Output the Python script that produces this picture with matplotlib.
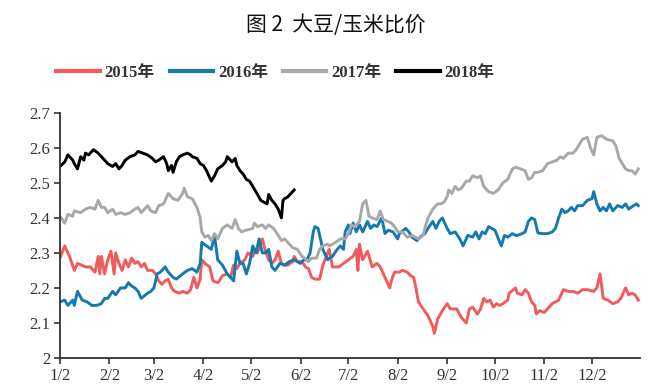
import matplotlib
matplotlib.use("Agg")
import matplotlib.pyplot as plt

# day of year (1 = Jan 2) and soybean/corn price ratio
days_2015 = [1, 4, 7, 10, 12, 17, 20, 23, 25, 26, 27, 29, 31, 33, 35, 36, 38, 40, 42, 44,
             46, 48, 50, 52, 54, 56, 59, 61, 63, 65, 67, 69, 71, 73, 76, 78, 81, 83, 85, 87,
             89, 90, 92, 95, 97, 100, 101, 103, 106, 108, 110, 112, 114, 117, 119, 122, 123, 125, 128, 130,
             132, 134, 136, 138, 140, 142, 144, 147, 148, 150, 153, 155, 157, 159, 161, 164, 166, 169, 170, 172,
             176, 179, 182, 185, 187, 188, 189, 191, 194, 197, 200, 202, 205, 208, 209, 211, 214, 216, 219, 221,
             223, 224, 226, 229, 232, 235, 236, 238, 241, 244, 246, 250, 253, 256, 258, 260, 263, 265, 267, 269,
             271, 273, 275, 277, 279, 282, 283, 287, 288, 291, 293, 295, 297, 299, 300, 302, 305, 309, 310, 314,
             317, 320, 323, 326, 329, 332, 336, 338, 340, 342, 345, 348, 351, 353, 356, 358, 360, 362, 364]
ratio_2015 = [2.286, 2.32, 2.29, 2.25, 2.27, 2.26, 2.26, 2.245, 2.29, 2.24, 2.29, 2.24, 2.28, 2.305, 2.24, 2.30, 2.27, 2.25, 2.28, 2.26,
              2.285, 2.27, 2.275, 2.26, 2.27, 2.25, 2.25, 2.24, 2.22, 2.21, 2.22, 2.225, 2.20, 2.19, 2.185, 2.19, 2.185, 2.195, 2.23, 2.20,
              2.225, 2.28, 2.27, 2.26, 2.22, 2.215, 2.22, 2.235, 2.24, 2.23, 2.265, 2.255, 2.27, 2.28, 2.30, 2.29, 2.305, 2.30, 2.34, 2.305,
              2.28, 2.27, 2.28, 2.305, 2.27, 2.265, 2.265, 2.275, 2.29, 2.275, 2.275, 2.26, 2.255, 2.23, 2.225, 2.225, 2.265, 2.30, 2.31, 2.26,
              2.26, 2.27, 2.28, 2.29, 2.31, 2.25, 2.325, 2.28, 2.305, 2.26, 2.27, 2.26, 2.23, 2.20, 2.22, 2.245, 2.245, 2.25, 2.245, 2.235,
              2.23, 2.21, 2.16, 2.14, 2.12, 2.09, 2.07, 2.11, 2.135, 2.155, 2.14, 2.14, 2.115, 2.10, 2.14, 2.145, 2.125, 2.14, 2.17, 2.16,
              2.165, 2.145, 2.155, 2.15, 2.155, 2.165, 2.185, 2.20, 2.185, 2.18, 2.195, 2.185, 2.16, 2.15, 2.125, 2.135, 2.13, 2.15, 2.155, 2.165,
              2.195, 2.19, 2.19, 2.185, 2.195, 2.195, 2.19, 2.20, 2.24, 2.17, 2.165, 2.155, 2.16, 2.17, 2.20, 2.18, 2.185, 2.18, 2.165]

days_2016 = [1, 4, 6, 9, 10, 12, 15, 18, 21, 24, 27, 29, 31, 34, 36, 39, 42, 44, 46, 48,
             50, 52, 56, 58, 60, 62, 64, 67, 69, 72, 74, 78, 81, 84, 87, 89, 90, 93, 96, 98,
             100, 103, 106, 108, 110, 112, 114, 116, 118, 120, 122, 124, 126, 128, 130, 132, 134, 136, 139, 142,
             145, 148, 152, 154, 156, 158, 160, 161, 163, 166, 169, 170, 172, 175, 177, 179, 180, 182, 183, 185,
             187, 189, 191, 194, 196, 198, 200, 203, 205, 207, 210, 213, 214, 218, 220, 222, 225, 227, 230, 232,
             235, 237, 239, 241, 244, 246, 249, 252, 254, 257, 260, 262, 264, 266, 268, 270, 272, 274, 278, 280,
             282, 285, 287, 288, 291, 293, 295, 297, 299, 301, 304, 307, 310, 312, 314, 316, 318, 320, 322, 324,
             326, 329, 332, 335, 336, 338, 340, 342, 344, 346, 348, 351, 354, 356, 358, 361, 363, 364]
ratio_2016 = [2.16, 2.165, 2.15, 2.165, 2.15, 2.19, 2.165, 2.16, 2.15, 2.15, 2.155, 2.17, 2.17, 2.19, 2.18, 2.20, 2.20, 2.215, 2.205, 2.20,
              2.19, 2.17, 2.185, 2.19, 2.20, 2.24, 2.245, 2.26, 2.245, 2.23, 2.225, 2.24, 2.25, 2.255, 2.245, 2.27, 2.33, 2.32, 2.31, 2.35,
              2.28, 2.265, 2.24, 2.23, 2.22, 2.305, 2.27, 2.27, 2.24, 2.27, 2.32, 2.30, 2.34, 2.30, 2.30, 2.31, 2.26, 2.25, 2.27, 2.265,
              2.275, 2.28, 2.27, 2.28, 2.28, 2.30, 2.36, 2.375, 2.37, 2.31, 2.28, 2.285, 2.29, 2.31, 2.32, 2.31, 2.36, 2.38, 2.355, 2.385,
              2.36, 2.38, 2.36, 2.39, 2.37, 2.38, 2.375, 2.40, 2.355, 2.365, 2.36, 2.34, 2.355, 2.37, 2.36, 2.345, 2.335, 2.345, 2.355, 2.37,
              2.39, 2.37, 2.39, 2.40, 2.37, 2.355, 2.36, 2.34, 2.32, 2.35, 2.345, 2.36, 2.34, 2.36, 2.355, 2.375, 2.37, 2.365, 2.32, 2.35,
              2.345, 2.355, 2.35, 2.35, 2.355, 2.36, 2.39, 2.40, 2.395, 2.357, 2.355, 2.355, 2.36, 2.37, 2.40, 2.425, 2.415, 2.42, 2.43, 2.42,
              2.435, 2.435, 2.45, 2.455, 2.475, 2.44, 2.42, 2.43, 2.42, 2.44, 2.42, 2.435, 2.43, 2.44, 2.425, 2.435, 2.44, 2.435]

days_2017 = [1, 4, 6, 9, 10, 14, 17, 20, 23, 25, 27, 29, 31, 34, 36, 39, 42, 45, 48, 50,
             52, 56, 58, 61, 63, 66, 69, 72, 75, 78, 79, 81, 84, 87, 89, 90, 92, 94, 96, 98,
             100, 103, 106, 109, 111, 113, 115, 118, 122, 123, 125, 128, 130, 132, 135, 138, 140, 142, 144, 147,
             150, 153, 155, 157, 159, 162, 164, 166, 169, 170, 174, 177, 180, 182, 184, 186, 189, 191, 193, 195,
             197, 200, 202, 204, 207, 209, 211, 213, 216, 219, 222, 224, 226, 229, 230, 232, 235, 238, 240, 242,
             244, 245, 247, 249, 251, 253, 256, 258, 260, 263, 265, 267, 270, 273, 276, 279, 282, 285, 287, 290,
             293, 295, 297, 299, 301, 304, 307, 310, 313, 315, 317, 320, 323, 325, 327, 329, 332, 334, 336, 338,
             341, 344, 348, 350, 352, 354, 356, 358, 360, 362, 364]
ratio_2017 = [2.405, 2.385, 2.41, 2.405, 2.42, 2.415, 2.425, 2.43, 2.425, 2.45, 2.43, 2.43, 2.415, 2.425, 2.41, 2.415, 2.41, 2.415, 2.425, 2.43,
              2.415, 2.435, 2.42, 2.415, 2.435, 2.44, 2.47, 2.455, 2.45, 2.47, 2.485, 2.46, 2.455, 2.43, 2.40, 2.36, 2.345, 2.35, 2.335, 2.355,
              2.34, 2.37, 2.38, 2.37, 2.395, 2.37, 2.36, 2.365, 2.37, 2.385, 2.375, 2.38, 2.37, 2.38, 2.37, 2.35, 2.335, 2.34, 2.33, 2.315,
              2.31, 2.29, 2.283, 2.275, 2.285, 2.285, 2.31, 2.32, 2.325, 2.32, 2.33, 2.34, 2.34, 2.355, 2.38, 2.375, 2.39, 2.44, 2.45, 2.405,
              2.40, 2.395, 2.42, 2.395, 2.39, 2.385, 2.375, 2.36, 2.36, 2.345, 2.35, 2.345, 2.34, 2.35, 2.37, 2.40, 2.425, 2.44, 2.44, 2.445,
              2.46, 2.48, 2.47, 2.49, 2.48, 2.485, 2.505, 2.505, 2.52, 2.515, 2.52, 2.49, 2.475, 2.47, 2.48, 2.50, 2.51, 2.54, 2.545, 2.54,
              2.535, 2.51, 2.515, 2.53, 2.53, 2.535, 2.555, 2.56, 2.565, 2.575, 2.57, 2.585, 2.585, 2.595, 2.61, 2.625, 2.63, 2.60, 2.58, 2.63,
              2.635, 2.625, 2.62, 2.605, 2.57, 2.555, 2.54, 2.535, 2.535, 2.525, 2.54]

days_2018 = [1, 4, 6, 9, 10, 12, 14, 16, 17, 19, 21, 22, 25, 27, 29, 31, 34, 36, 38, 40,
             42, 45, 48, 50, 53, 56, 59, 61, 63, 66, 68, 69, 71, 72, 74, 76, 78, 81, 83, 84,
             87, 89, 91, 93, 95, 96, 98, 100, 103, 105, 106, 109, 111, 112, 114, 116, 118, 120, 122, 125,
             127, 129, 131, 132, 134, 136, 138, 140, 141, 142, 144, 147, 148]
ratio_2018 = [2.547, 2.56, 2.58, 2.565, 2.555, 2.54, 2.575, 2.565, 2.585, 2.58, 2.59, 2.595, 2.585, 2.575, 2.565, 2.555, 2.547, 2.555, 2.54, 2.55,
              2.565, 2.575, 2.58, 2.59, 2.585, 2.58, 2.57, 2.56, 2.565, 2.575, 2.555, 2.535, 2.55, 2.53, 2.56, 2.575, 2.58, 2.585, 2.58, 2.575,
              2.57, 2.555, 2.55, 2.535, 2.515, 2.505, 2.52, 2.54, 2.55, 2.56, 2.575, 2.56, 2.57, 2.55, 2.535, 2.525, 2.51, 2.505, 2.49, 2.467,
              2.45, 2.445, 2.44, 2.467, 2.45, 2.44, 2.425, 2.40, 2.45, 2.455, 2.46, 2.475, 2.48]

tick_days = [1, 32, 60, 91, 121, 152, 182, 213, 244, 274, 305, 335]
tick_labels = ["1/2", "2/2", "3/2", "4/2", "5/2", "6/2", "7/2", "8/2", "9/2", "10/2", "11/2", "12/2"]
y_ticks = [2, 2.1, 2.2, 2.3, 2.4, 2.5, 2.6, 2.7]
y_labels = ["2", "2.1", "2.2", "2.3", "2.4", "2.5", "2.6", "2.7"]

serif = ["Liberation Serif", "Noto Sans CJK SC"]

fig = plt.figure(figsize=(6.59, 3.92), dpi=100)
ax = fig.add_axes([0.091, 0.087, 0.880, 0.625])

lw = 2.1
ax.plot(days_2015, ratio_2015, color="#F25A5B", lw=lw, label="2015年")
ax.plot(days_2016, ratio_2016, color="#1479AD", lw=lw, label="2016年")
ax.plot(days_2017, ratio_2017, color="#A8A8A8", lw=lw, label="2017年")
ax.plot(days_2018, ratio_2018, color="#000000", lw=lw, label="2018年")

ax.set_xlim(1, 365)
ax.set_ylim(2, 2.7)
ax.set_xticks(tick_days)
ax.set_xticklabels(tick_labels, family=serif, fontsize=12, color="#333333")
ax.set_yticks(y_ticks)
ax.set_yticklabels(y_labels, family=serif, fontsize=12, color="#333333")
ax.tick_params(direction="out", length=4, width=1.2, color="#333333", pad=3)
for s in ["top", "right"]:
    ax.spines[s].set_visible(False)
for s in ["left", "bottom"]:
    ax.spines[s].set_linewidth(1.3)
    ax.spines[s].set_color("#333333")

fig.text(0.51, 0.935, "图 2  大豆/玉米比价", ha="center", va="center",
         family=["Noto Sans CJK SC", "DejaVu Sans"], fontsize=15, color="#111111")

leg = fig.legend(loc="center", bbox_to_anchor=(0.418, 0.815), ncol=4, frameon=False,
                 prop={"family": serif, "size": 12, "weight": "bold"},
                 handlelength=2.6, handletextpad=0.3, columnspacing=0.9)
for h in leg.get_lines():
    h.set_linewidth(3)
for t in leg.get_texts():
    t.set_color("#333333")

fig.savefig("out.png", dpi=100)
